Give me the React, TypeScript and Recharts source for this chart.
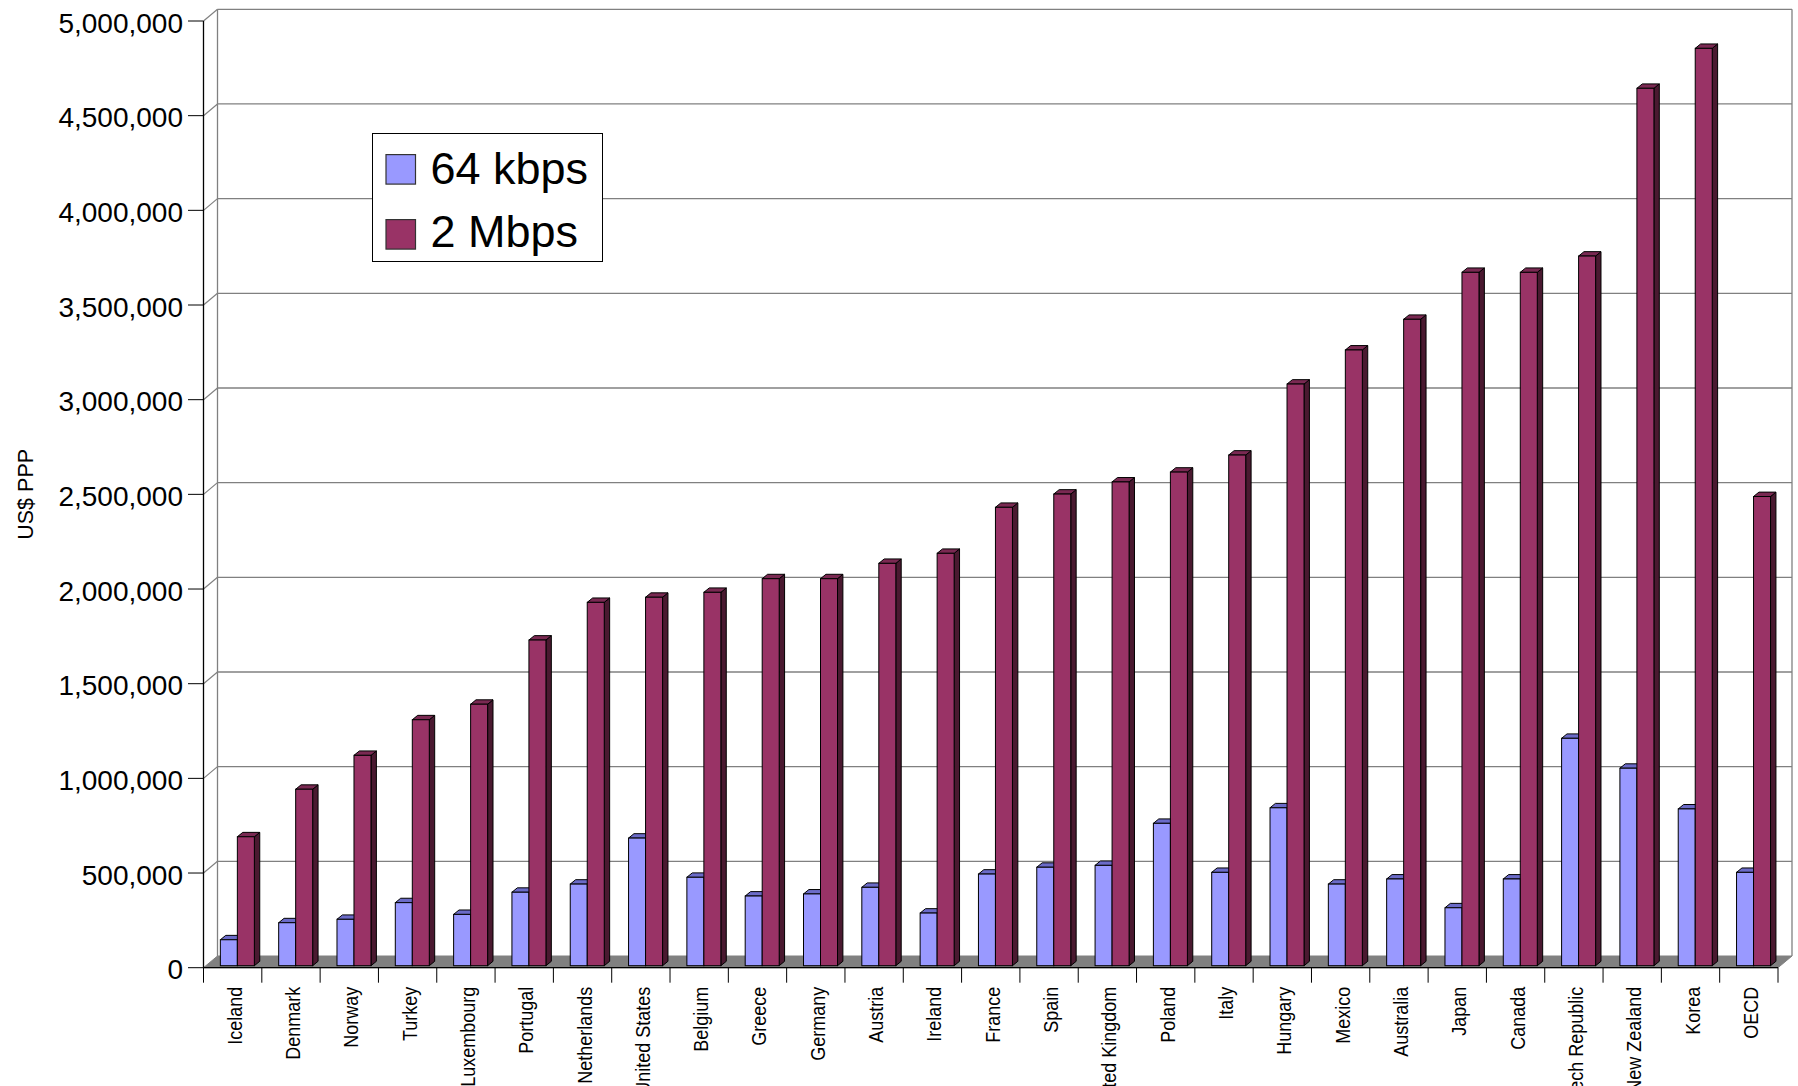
import React from 'react';
import { BarChart, Bar, XAxis, YAxis, CartesianGrid, Legend } from 'recharts';

const countries = [
  'Iceland', 'Denmark', 'Norway', 'Turkey', 'Luxembourg', 'Portugal', 'Netherlands',
  'United States', 'Belgium', 'Greece', 'Germany', 'Austria', 'Ireland', 'France',
  'Spain', 'United Kingdom', 'Poland', 'Italy', 'Hungary', 'Mexico', 'Australia',
  'Japan', 'Canada', 'Czech Republic', 'New Zealand', 'Korea', 'OECD',
];

const kbps64 = [
  137000, 227000, 245000, 333000, 271000, 388000, 431000,
  674000, 467000, 368000, 379000, 414000, 278000, 484000,
  520000, 530000, 752000, 493000, 834000, 431000, 458000,
  306000, 458000, 1201000, 1043000, 828000, 493000,
];

const mbps2 = [
  681000, 932000, 1111000, 1299000, 1381000, 1720000, 1919000,
  1946000, 1972000, 2044000, 2044000, 2125000, 2178000, 2421000,
  2491000, 2555000, 2607000, 2697000, 3072000, 3252000, 3414000,
  3662000, 3662000, 3748000, 4634000, 4845000, 2478000,
];

const yTicks = [0, 500000, 1000000, 1500000, 2000000, 2500000, 3000000, 3500000, 4000000, 4500000, 5000000];

const seriesNames = ['64 kbps', '2 Mbps'];

const data = countries.map((c, i) => ({ country: c, kbps64: kbps64[i], mbps2: mbps2[i] }));

const FONT = '"Liberation Sans", Arial, Helvetica, sans-serif';
const WALL_DX = 14;
const WALL_DY = -11.7;
const FRONT_DX = 4.2;
const FRONT_DY = -2;
const DEPTH_DX = 5.4;
const DEPTH_DY = -4.4;
const GRID = '#808080';

function GridLine(props: any) {
  const { x1, x2, y1, index } = props;
  const pts: number[] = Array.isArray(props.horizontalPoints) ? props.horizontalPoints : [];
  const bottom = pts.length ? Math.max(...pts) : props.y + props.height;
  const top = pts.length ? Math.min(...pts) : props.y;
  const bx1 = x1 + WALL_DX;
  const bx2 = x2 + WALL_DX;
  const by = y1 + WALL_DY;
  const isBottom = Math.abs(y1 - bottom) < 0.5;
  const isTop = Math.abs(y1 - top) < 0.5;
  return (
    <g key={`grid-${index}`}>
      {isBottom && (
        <polygon
          points={`${x1},${y1} ${x2},${y1} ${bx2},${by} ${bx1},${by}`}
          fill="#808080"
          stroke="#808080"
          strokeWidth={1}
        />
      )}
      {isTop && (
        <g>
          <line x1={bx1} y1={by} x2={bx1} y2={bottom + WALL_DY} stroke={GRID} strokeWidth={1.3} />
          <line x1={bx2} y1={by} x2={bx2} y2={bottom + WALL_DY} stroke={GRID} strokeWidth={1.3} />
        </g>
      )}
      {!isBottom && <line x1={x1} y1={y1} x2={bx1} y2={by} stroke={GRID} strokeWidth={1.2} />}
      {!isBottom && <line x1={bx1} y1={by} x2={bx2} y2={by} stroke={GRID} strokeWidth={1.3} />}
    </g>
  );
}

function make3DBar(front: string, topC: string, side: string) {
  return (props: any) => {
    const { x, y, width, height } = props;
    if (x == null || y == null || !width || height == null) return <g />;
    const fx = x + FRONT_DX;
    const fy = y + FRONT_DY;
    const w = width;
    const h = height;
    return (
      <g>
        <polygon
          points={`${fx + w},${fy} ${fx + w + DEPTH_DX},${fy + DEPTH_DY} ${fx + w + DEPTH_DX},${fy + h + DEPTH_DY} ${fx + w},${fy + h}`}
          fill={side}
          stroke="#000"
          strokeWidth={1}
          strokeLinejoin="round"
        />
        <polygon
          points={`${fx},${fy} ${fx + DEPTH_DX},${fy + DEPTH_DY} ${fx + w + DEPTH_DX},${fy + DEPTH_DY} ${fx + w},${fy}`}
          fill={topC}
          stroke="#000"
          strokeWidth={1}
          strokeLinejoin="round"
        />
        <rect x={fx} y={fy} width={w} height={h} fill={front} stroke="#000" strokeWidth={1} />
      </g>
    );
  };
}

const BlueBar = make3DBar('#9999FF', '#6B6BC8', '#4D4D8C');
const MaroonBar = make3DBar('#993366', '#7A2952', '#4A1930');

function CountryTick(props: any) {
  const { x, y, payload, index, visibleTicksCount, width } = props;
  const half = payload && payload.offset ? payload.offset : width / (visibleTicksCount || 27) / 2;
  const last = index === (visibleTicksCount || 27) - 1;
  return (
    <g>
      <line x1={x - half} y1={y} x2={x - half} y2={y + 15} stroke="#000" strokeWidth={1} />
      {last && <line x1={x + half} y1={y} x2={x + half} y2={y + 15} stroke="#000" strokeWidth={1} />}
      <text
        transform={`translate(${x + 9}, ${y + 19}) rotate(-90) scale(1, 1.12)`}
        textAnchor="end"
        fontSize={18}
        fontFamily={FONT}
        fill="#000"
      >
        {payload.value}
      </text>
    </g>
  );
}

function ValueTick(props: any) {
  const { x, y, payload } = props;
  return (
    <text x={x} y={y + 11.5} textAnchor="end" fontSize={28} fontFamily={FONT} fill="#000">
      {Number(payload.value).toLocaleString('en-US')}
    </text>
  );
}

const renderYLabel = (props: any) => {
  const vb = props && props.viewBox ? props.viewBox : { x: 0, y: 21, width: 203.5, height: 946.7 };
  const cx = vb.x + 33.4;
  const cy = vb.y + vb.height / 2;
  return (
    <text
      transform={`translate(${cx}, ${cy}) rotate(-90)`}
      textAnchor="middle"
      fontSize={21.5}
      fontFamily={FONT}
      fill="#000"
    >
      US$ PPP
    </text>
  );
};

const renderLegend = (props: any) => {
  const raw = props && props.payload ? props.payload : [];
  const payload = [...raw].sort(
    (a: any, b: any) => seriesNames.indexOf(a.value) - seriesNames.indexOf(b.value)
  );
  const squareTops = [21.6, 86.6];
  const baselines = [50.6, 114];
  return (
    <svg width={231} height={129} style={{ display: 'block' }}>
      <rect x={0.5} y={0.5} width={230} height={128} fill="#fff" stroke="#000" strokeWidth={1} />
      {payload.map((p: any, i: number) => (
        <g key={`lg-${i}`}>
          <rect x={14} y={squareTops[i]} width={29.5} height={29.5} fill={p.color} stroke="#333" strokeWidth={1.2} />
          <text x={58.5} y={baselines[i]} fontSize={45} fontFamily={FONT} fill="#000">
            {p.value}
          </text>
        </g>
      ))}
    </svg>
  );
};

export default function App() {
  return (
    <div
      style={{
        position: 'absolute',
        left: 0,
        top: 0,
        width: 1798,
        height: 1086,
        background: '#fff',
        overflow: 'hidden',
      }}
    >
      <BarChart
        width={1798}
        height={1086}
        data={data}
        margin={{ top: 21, right: 20, bottom: 0, left: 0 }}
        barCategoryGap="21.7%"
        barGap={0}
      >
        <CartesianGrid horizontal={GridLine as any} vertical={false} />
        <XAxis
          dataKey="country"
          interval={0}
          height={118.3}
          tick={<CountryTick />}
          tickLine={false}
          tickSize={0}
          tickMargin={0}
          axisLine={{ stroke: '#000', strokeWidth: 1.3 }}
        />
        <YAxis
          domain={[0, 5000000]}
          ticks={yTicks}
          interval={0}
          width={203.5}
          tick={<ValueTick />}
          tickSize={15.5}
          tickMargin={5}
          tickLine={{ stroke: '#000', strokeWidth: 1 }}
          axisLine={{ stroke: '#000', strokeWidth: 1.3 }}
          label={renderYLabel}
        />
        <Bar dataKey="kbps64" name={seriesNames[0]} fill="#9999FF" shape={BlueBar} isAnimationActive={false} />
        <Bar dataKey="mbps2" name={seriesNames[1]} fill="#993366" shape={MaroonBar} isAnimationActive={false} />
        <Legend
          content={renderLegend}
          layout="vertical"
          align="center"
          verticalAlign="middle"
          wrapperStyle={{ left: 371.5, top: 132.7, width: 231, height: 129 }}
        />
      </BarChart>
    </div>
  );
}
